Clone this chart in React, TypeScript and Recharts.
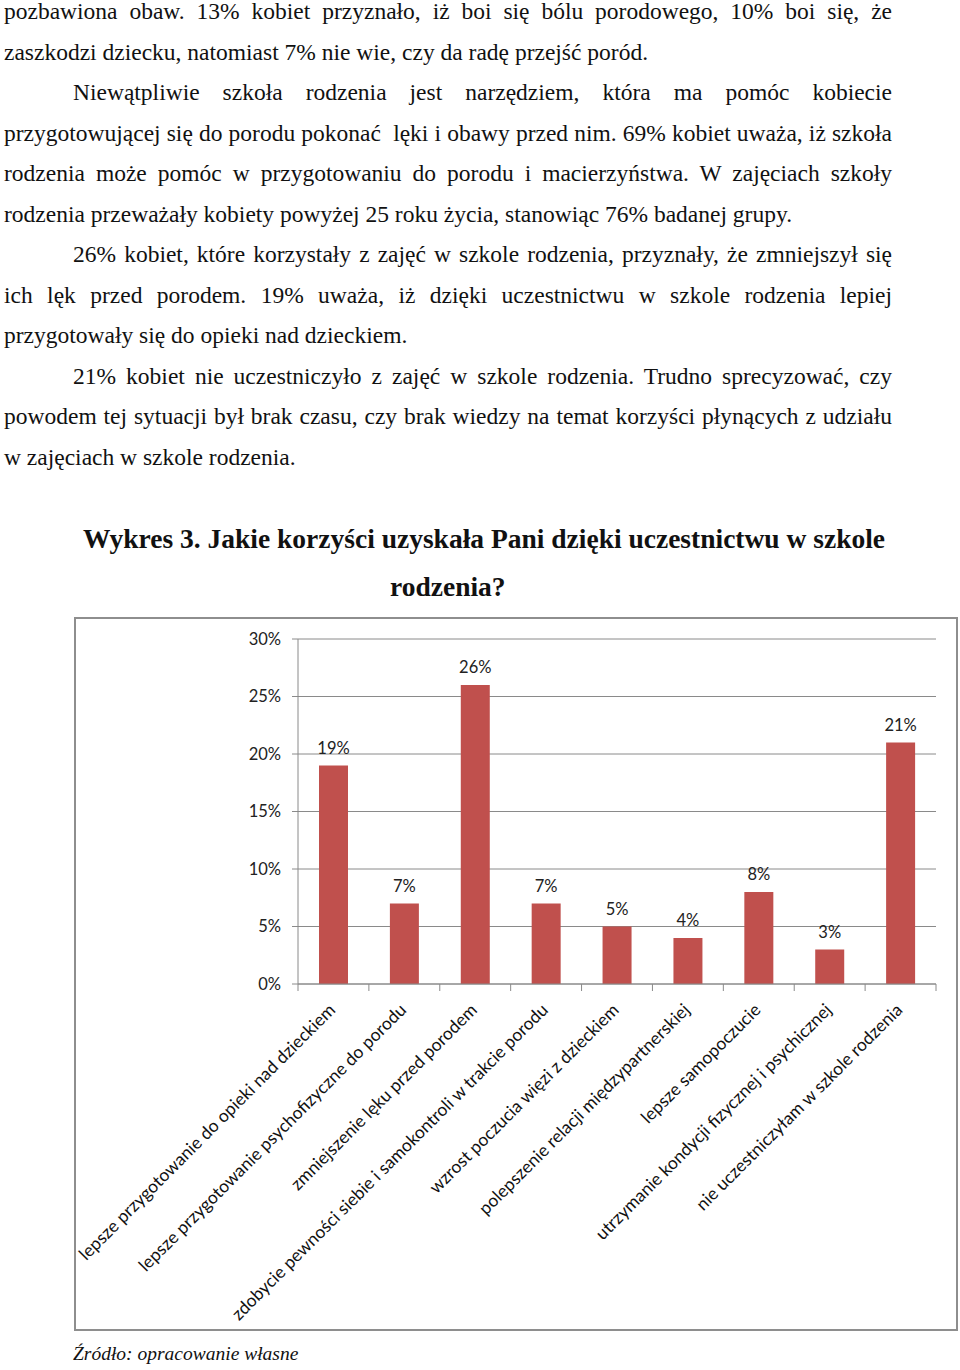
import React from "react";
import { BarChart, Bar, XAxis, YAxis, CartesianGrid, LabelList } from "recharts";

const categories = [
  "lepsze przygotowanie do opieki nad dzieckiem",
  "lepsze przygotowanie psychofizyczne do porodu",
  "zmniejszenie lęku przed porodem",
  "zdobycie pewności siebie i samokontroli w trakcie porodu",
  "wzrost poczucia więzi z dzieckiem",
  "polepszenie relacji międzypartnerskiej",
  "lepsze samopoczucie",
  "utrzymanie kondycji fizycznej i psychicznej",
  "nie uczestniczyłam w szkole rodzenia",
];
const percents = [19, 7, 26, 7, 5, 4, 8, 3, 21];
const yTicks = [0, 5, 10, 15, 20, 25, 30];

const data = categories.map((name, i) => ({ name, value: percents[i] }));

// page text above the chart, one entry per printed line
const lines = [
  { t: "pozbawiona obaw. 13% kobiet przyznało, iż boi się bólu porodowego, 10% boi się, że", indent: false, last: false },
  { t: "zaszkodzi dziecku, natomiast 7% nie wie, czy da radę przejść poród.", indent: false, last: true },
  { t: "Niewątpliwie szkoła rodzenia jest narzędziem, która ma pomóc kobiecie", indent: true, last: false },
  { t: "przygotowującej się do porodu pokonać  lęki i obawy przed nim. 69% kobiet uważa, iż szkoła", indent: false, last: false },
  { t: "rodzenia może pomóc w przygotowaniu do porodu i macierzyństwa. W zajęciach szkoły", indent: false, last: false },
  { t: "rodzenia przeważały kobiety powyżej 25 roku życia, stanowiąc 76% badanej grupy.", indent: false, last: true },
  { t: "26% kobiet, które korzystały z zajęć w szkole rodzenia, przyznały, że zmniejszył się", indent: true, last: false },
  { t: "ich lęk przed porodem. 19% uważa, iż dzięki uczestnictwu w szkole rodzenia lepiej", indent: false, last: false },
  { t: "przygotowały się do opieki nad dzieckiem.", indent: false, last: true },
  { t: "21% kobiet nie uczestniczyło z zajęć w szkole rodzenia. Trudno sprecyzować, czy", indent: true, last: false },
  { t: "powodem tej sytuacji był brak czasu, czy brak wiedzy na temat korzyści płynących z udziału", indent: false, last: false },
  { t: "w zajęciach w szkole rodzenia.", indent: false, last: true },
];

const GRID = "#8a8a8a";
const BAR = "#C0504D";
const SANS = "Lato, 'Open Sans', sans-serif";
const SERIF = "'Liberation Serif', 'Times New Roman', serif";

const CHART_W = 880;
const CHART_H = 710;
const MARGIN = { top: 20, right: 20, left: 0, bottom: 0 };
const Y_W = 222;
const X_H = 345;
const BAND = (CHART_W - MARGIN.right - Y_W) / categories.length;

const XTick = (props: any) => {
  const { x, y, payload, index } = props;
  const half = payload && payload.offset ? payload.offset : BAND / 2;
  const lx = x + 3;
  const ly = y + 27;
  return (
    <g>
      <line x1={x - half} y1={y} x2={x - half} y2={y + 7} stroke={GRID} />
      {index === categories.length - 1 && (
        <line x1={x + half} y1={y} x2={x + half} y2={y + 7} stroke={GRID} />
      )}
      <text
        x={lx}
        y={ly}
        transform={`rotate(-45, ${lx}, ${ly})`}
        textAnchor="end"
        fontFamily={SANS}
        fontSize={17.5}
        fill="#111"
      >
        {payload.value}
      </text>
    </g>
  );
};

export default function App() {
  return (
    <div style={{ position: "absolute", left: 0, top: 0, width: 960, height: 1370, background: "#fff", color: "#111" }}>
      {lines.map((l, i) => (
        <div
          key={i}
          style={{
            position: "absolute",
            left: 4,
            top: -8.8 + i * 40.5,
            width: 888,
            fontFamily: SERIF,
            fontSize: 23.5,
            lineHeight: "40.5px",
            whiteSpace: "pre",
            textAlign: "justify",
            textAlignLast: l.last ? "left" : "justify",
            textIndent: l.indent ? 69 : 0,
          }}
        >
          {l.t}
        </div>
      ))}

      <div style={{ position: "absolute", left: 83, top: 525, fontFamily: SERIF, fontWeight: "bold", fontSize: 27.5, lineHeight: "27.5px", whiteSpace: "nowrap" }}>
        Wykres 3. Jakie korzyści uzyskała Pani dzięki uczestnictwu w szkole
      </div>
      <div style={{ position: "absolute", left: 390, top: 573, fontFamily: SERIF, fontWeight: "bold", fontSize: 27.5, lineHeight: "27.5px", whiteSpace: "nowrap" }}>
        rodzenia?
      </div>

      <div
        style={{
          position: "absolute",
          left: 74,
          top: 617,
          width: 884,
          height: 714,
          border: "2px solid #8e8e8e",
          boxSizing: "border-box",
        }}
      >
        <BarChart width={CHART_W} height={CHART_H} data={data} margin={MARGIN}>
          <CartesianGrid vertical={false} stroke={GRID} />
          <YAxis
            width={Y_W}
            domain={[0, 30]}
            ticks={yTicks}
            interval={0}
            tickFormatter={(v: number) => `${v}%`}
            tickSize={6}
            tickMargin={11}
            axisLine={{ stroke: GRID }}
            tickLine={{ stroke: GRID }}
            tick={{ fontFamily: SANS, fontSize: 16.5, fill: "#222" }}
          />
          <XAxis
            dataKey="name"
            height={X_H}
            interval={0}
            tickSize={0}
            tickMargin={0}
            tickLine={false}
            axisLine={{ stroke: GRID }}
            tick={<XTick />}
          />
          <Bar dataKey="value" fill={BAR} barSize={29} isAnimationActive={false}>
            <LabelList
              dataKey="value"
              position="top"
              offset={12}
              formatter={(v: any) => `${v}%`}
              style={{ fontFamily: SANS, fontSize: 16.5, fill: "#222" }}
            />
          </Bar>
        </BarChart>
      </div>

      <div style={{ position: "absolute", left: 73, top: 1343, fontFamily: SERIF, fontStyle: "italic", fontSize: 19.5, whiteSpace: "nowrap" }}>
        Źródło: opracowanie własne
      </div>
    </div>
  );
}
